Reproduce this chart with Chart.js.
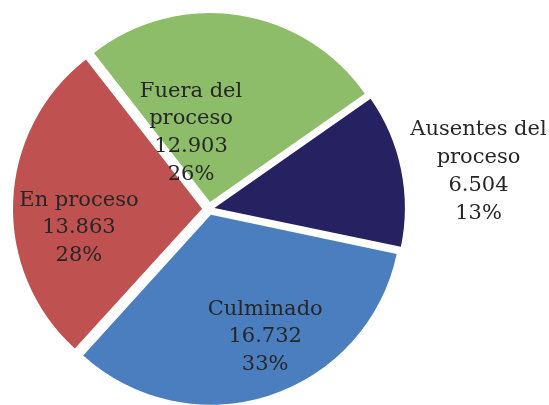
<!DOCTYPE html>
<html>
<head>
<meta charset="utf-8">
<script src="https://cdn.jsdelivr.net/npm/chart.js@4"></script>
<style>
html,body{margin:0;padding:0;background:#ffffff;}
#wrap{position:relative;width:549px;height:405px;}
</style>
</head>
<body>
<div id="wrap"><canvas id="c"></canvas></div>
<script>
const categories = ["Ausentes del proceso", "Culminado", "En proceso", "Fuera del proceso"];
const labelLines = [["Ausentes del", "proceso"], ["Culminado"], ["En proceso"], ["Fuera del", "proceso"]];
const values = [6504, 16732, 13863, 12903];
const valueLabels = ["6.504", "16.732", "13.863", "12.903"];
const percentLabels = ["13%", "33%", "28%", "26%"];
const colors = ["#262261", "#4A7EBF", "#BF5250", "#8DBD69"];

// label placement relative to each slice (angle shift in degrees from mid-angle, radius as fraction of outer radius)
const labelPlacement = [
  {shift: 4.8, r: 1.436},
  {shift: -4.9, r: 0.766},
  {shift: -12.8, r: 0.70},
  {shift: -22.8, r: 0.386}
];

// desired explode distance in px; Chart.js translates arcs by offset/4 * (1 + (1 - sin(angle)))
const explodePx = 7;
function explodeOffset(ctx) {
  const v = ctx.dataset.data;
  const total = v.reduce((a, b) => a + b, 0);
  const ang = v[ctx.dataIndex] / total * Math.PI * 2;
  const fix = 1 - Math.sin(Math.min(Math.PI, ang));
  return explodePx * 4 / (1 + fix);
}

const sliceLabels = {
  id: 'sliceLabels',
  afterDatasetsDraw(chart) {
    const ctx = chart.ctx;
    const meta = chart.getDatasetMeta(0);
    ctx.save();
    ctx.font = '21px "DejaVu Serif"';
    ctx.fillStyle = '#262626';
    ctx.textAlign = 'center';
    ctx.textBaseline = 'alphabetic';
    const lineH = 27.8;
    meta.data.forEach((arc, i) => {
      const p = arc.getProps(['x', 'y', 'startAngle', 'endAngle', 'outerRadius'], true);
      const mid = (p.startAngle + p.endAngle) / 2 + labelPlacement[i].shift * Math.PI / 180;
      const rr = p.outerRadius * labelPlacement[i].r;
      const cx = p.x + Math.cos(mid) * rr;
      const cy = p.y + Math.sin(mid) * rr;
      const lines = labelLines[i].concat([valueLabels[i], percentLabels[i]]);
      const n = lines.length;
      lines.forEach((t, k) => {
        ctx.fillText(t, cx, cy + (k - (n - 1) / 2) * lineH);
      });
    });
    ctx.restore();
  }
};

new Chart(document.getElementById('c'), {
  type: 'pie',
  data: {
    labels: categories,
    datasets: [{
      data: values,
      backgroundColor: colors,
      borderWidth: 0,
      offset: explodeOffset
    }]
  },
  options: {
    responsive: true,
    maintainAspectRatio: false,
    animation: false,
    rotation: 55,
    radius: 189,
    layout: {padding: {left: 0, right: 131, top: 13, bottom: 0}},
    plugins: {
      legend: {display: false},
      tooltip: {enabled: false},
      title: {display: false}
    },
    events: []
  },
  plugins: [sliceLabels]
});
</script>
</body>
</html>
